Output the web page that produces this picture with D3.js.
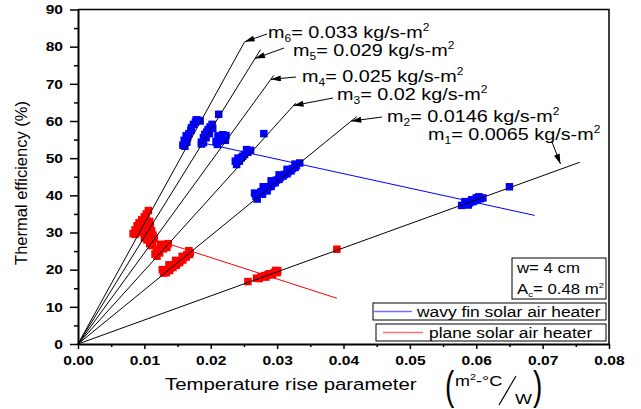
<!DOCTYPE html>
<html>
<head>
<meta charset="utf-8">
<script src="https://cdn.jsdelivr.net/npm/d3@7"></script>
<style>
body{margin:0;background:#fff}
svg{display:block}
text{font-family:"Liberation Sans",Arial,sans-serif;fill:#000}
</style>
</head>
<body>
<svg id="chart" width="641" height="409"></svg>
<script>
// ---- data ----
const xTicks = [0, 0.01, 0.02, 0.03, 0.04, 0.05, 0.06, 0.07, 0.08];
const yTicks = [0, 10, 20, 30, 40, 50, 60, 70, 80, 90];

// mass flow rates m1..m6 and the end of each fitted line through the origin
const flowRates = ["0.0065", "0.0146", "0.02", "0.025", "0.029", "0.033"];
const fitEndX = [0.0756, 0.0420, 0.0328, 0.0295, 0.0275, 0.0251];
const fitEndY = [48.9, 61.2, 64.8, 72.3, 79.2, 81.3];

// wavy fin solar air heater (blue squares)
const wavyX = [0.0161, 0.0164, 0.0165, 0.0167, 0.0170, 0.0171, 0.0174, 0.0177, 0.0181,
  0.0158, 0.0160, 0.0163, 0.0178, 0.0184,
  0.0186, 0.0186, 0.0189, 0.0191, 0.0194, 0.0196, 0.0199, 0.0202, 0.0212,
  0.0189, 0.0193, 0.0198, 0.0203,
  0.0210, 0.0212, 0.0215, 0.0219, 0.0223, 0.0208, 0.0211, 0.0218, 0.0222,
  0.0239, 0.0243, 0.0246, 0.0251, 0.0256, 0.0260, 0.0280, 0.0237, 0.0241, 0.0248, 0.0254,
  0.0268, 0.0272, 0.0276, 0.0281, 0.0287, 0.0293, 0.0299, 0.0305, 0.0311, 0.0317, 0.0323, 0.0329, 0.0334,
  0.0270, 0.0278, 0.0285, 0.0291, 0.0297, 0.0303, 0.0309, 0.0315, 0.0321, 0.0327,
  0.0266, 0.0279, 0.0291, 0.0303, 0.0315, 0.0327,
  0.0578, 0.0585, 0.0590, 0.0595, 0.0598, 0.0602, 0.0606, 0.0610, 0.0650,
  0.0583, 0.0593, 0.0600, 0.0604, 0.0588];
const wavyY = [53.2, 54.3, 55.5, 56.6, 57.5, 58.2, 59.1, 59.7, 60.2,
  53.5, 54.8, 56.0, 60.3, 60.0,
  53.8, 54.3, 55.5, 56.4, 57.0, 57.7, 58.4, 59.1, 61.8,
  54.2, 55.5, 56.6, 58.0,
  53.7, 54.6, 55.2, 55.7, 56.1, 54.5, 56.0, 56.3, 54.8,
  48.3, 49.2, 50.1, 51.0, 51.6, 52.1, 56.6, 49.2, 50.0, 50.5, 52.3,
  39.8, 40.4, 41.0, 41.6, 42.3, 43.2, 44.1, 44.9, 45.6, 46.4, 47.2, 48.0, 48.7,
  39.0, 40.3, 41.2, 42.4, 43.4, 44.3, 45.2, 45.8, 46.6, 47.5,
  40.6, 42.3, 43.9, 45.5, 47.0, 48.4,
  37.3, 37.7, 38.0, 38.3, 38.6, 38.8, 39.1, 39.3, 42.3,
  38.3, 38.8, 39.3, 39.6, 37.4];

// plane solar air heater (red squares)
const plainX = [0.0083, 0.0086, 0.0089, 0.0092, 0.0096, 0.0100, 0.0103, 0.0106,
  0.0103, 0.0106, 0.0109, 0.0111, 0.0113, 0.0115, 0.0104, 0.0108, 0.0111,
  0.0098, 0.0101, 0.0096, 0.0100, 0.0106, 0.0110, 0.0112, 0.0108, 0.0086, 0.0090,
  0.0116, 0.0121, 0.0126, 0.0132, 0.0136, 0.0119, 0.0123, 0.0129, 0.0134, 0.0118, 0.0124,
  0.0129, 0.0134, 0.0139, 0.0144, 0.0149, 0.0154, 0.0159, 0.0164, 0.0169,
  0.0133, 0.0138, 0.0143, 0.0148, 0.0153, 0.0158, 0.0163, 0.0168,
  0.0127, 0.0137, 0.0147, 0.0157, 0.0167,
  0.0256, 0.0269, 0.0276, 0.0281, 0.0286, 0.0291, 0.0296, 0.0301, 0.0390,
  0.0273, 0.0283, 0.0293, 0.0300, 0.0288, 0.0298];
const plainY = [29.7, 30.7, 31.8, 32.6, 33.4, 34.2, 35.0, 35.9,
  30.0, 31.0, 31.7, 30.4, 29.3, 28.4, 28.0, 27.0, 26.5,
  31.5, 32.5, 30.0, 28.5, 29.0, 28.8, 27.5, 33.0, 29.5, 30.5,
  24.2, 25.2, 26.1, 26.8, 27.0, 23.6, 24.5, 25.6, 26.0, 25.5, 26.8,
  19.1, 19.7, 20.4, 21.1, 21.7, 22.4, 23.3, 24.0, 24.6,
  19.2, 19.8, 20.6, 21.2, 21.9, 22.6, 23.4, 24.1,
  20.0, 21.3, 22.5, 23.6, 25.1,
  16.8, 17.7, 18.1, 18.4, 18.6, 18.9, 19.3, 19.7, 25.5,
  17.6, 18.0, 18.6, 19.2, 18.9, 19.8];

// trend lines across the flow rates
const wavyTrendX = [0.0193, 0.0688];
const wavyTrendY = [53.9, 34.6];
const plainTrendX = [0.0137, 0.0390];
const plainTrendY = [26.9, 12.3];

// ---- chart ----
const svg = d3.select("#chart");
const SX = 1.2; // text in the figure is stretched horizontally
const x = d3.scaleLinear().domain([0, 0.08]).range([78, 609]);
const y = d3.scaleLinear().domain([0, 90]).range([344, 9.5]);

svg.append("defs").append("marker")
  .attr("id", "arrow")
  .attr("viewBox", "0 0 10 6")
  .attr("refX", 10).attr("refY", 3)
  .attr("markerWidth", 12).attr("markerHeight", 6)
  .attr("markerUnits", "userSpaceOnUse")
  .attr("orient", "auto")
  .append("path").attr("d", "M0,0L10,3L0,6Z").attr("fill", "#000");

// axes
const xMinor = d3.range(0.005, 0.08, 0.01);
const yMinor = d3.range(5, 90, 10);

svg.append("g").attr("transform", `translate(0,${y(0)})`)
  .call(d3.axisBottom(x).tickValues(xMinor).tickFormat("").tickSize(3).tickSizeOuter(0))
  .call(g => g.select(".domain").remove())
  .selectAll("line").attr("stroke-width", 1.5);
svg.append("g").attr("transform", `translate(${x(0)},0)`)
  .call(d3.axisLeft(y).tickValues(yMinor).tickFormat("").tickSize(4).tickSizeOuter(0))
  .call(g => g.select(".domain").remove())
  .selectAll("line").attr("stroke-width", 1.5);

const xAxis = svg.append("g").attr("transform", `translate(0,${y(0)})`)
  .call(d3.axisBottom(x).tickValues(xTicks).tickFormat(d3.format(".2f"))
    .tickSize(5).tickSizeOuter(0).tickPadding(7));
xAxis.attr("font-size", 13).attr("font-weight", "bold")
  .attr("font-family", "Liberation Sans, Arial, sans-serif");
xAxis.select(".domain").attr("stroke-width", 2);
xAxis.selectAll("line").attr("stroke-width", 1.5);
xAxis.selectAll("text").attr("transform", `scale(${SX},1)`);

const yAxis = svg.append("g").attr("transform", `translate(${x(0)},0)`)
  .call(d3.axisLeft(y).tickValues(yTicks).tickSize(8).tickSizeOuter(0));
yAxis.attr("font-size", 13).attr("font-weight", "bold")
  .attr("font-family", "Liberation Sans, Arial, sans-serif");
yAxis.select(".domain").attr("stroke-width", 2);
yAxis.selectAll("line").attr("stroke-width", 1.5);
yAxis.selectAll("text").attr("x", -15 / SX).attr("transform", `scale(${SX},1)`);

// frame (top and right)
svg.append("path")
  .attr("d", `M${x(0)},${y(90)}H${x(0.08)}V${y(0)}`)
  .attr("fill", "none").attr("stroke", "#000").attr("stroke-width", 1.5);

// points
const sq = 7.5;
function squares(xs, ys, color) {
  svg.append("g").selectAll("rect")
    .data(d3.zip(xs, ys))
    .join("rect")
    .attr("x", d => x(d[0]) - sq / 2)
    .attr("y", d => y(d[1]) - sq / 2)
    .attr("width", sq).attr("height", sq)
    .attr("fill", color);
}
squares(wavyX, wavyY, "#0000ff");
squares(plainX, plainY, "#ff0000");

const line = d3.line().x(d => x(d[0])).y(d => y(d[1]));
svg.append("path").attr("d", line(d3.zip(wavyTrendX, wavyTrendY)))
  .attr("fill", "none").attr("stroke", "#0000ff").attr("stroke-width", 1);
svg.append("path").attr("d", line(d3.zip(plainTrendX, plainTrendY)))
  .attr("fill", "none").attr("stroke", "#ff0000").attr("stroke-width", 1);

// fitted lines through origin
svg.append("g").selectAll("path")
  .data(d3.zip(fitEndX, fitEndY))
  .join("path")
  .attr("d", d => line([[0, 0], d]))
  .attr("fill", "none").attr("stroke", "#000").attr("stroke-width", 1);

// flow-rate labels with arrows
const labelPos = [
  {tx: 428, ty: 140, ax: 552, ay: 142, f: 0.965, gap: 5},
  {tx: 387, ty: 122, ax: 382, ay: 117, f: 0.98, gap: 0},
  {tx: 337, ty: 100, ax: 333, ay: 98, f: 0.99, gap: 0},
  {tx: 302, ty: 82, ax: 296, ay: 77, f: 0.985, gap: 0},
  {tx: 293, ty: 56, ax: 284, ay: 48, f: 0.97, gap: 0},
  {tx: 268, ty: 38, ax: 267, ay: 34, f: 1.0, gap: 0}
];
labelPos.forEach((p, i) => {
  const t = svg.append("text")
    .attr("transform", `translate(${p.tx},${p.ty}) scale(${SX},1)`)
    .attr("font-size", 16.5);
  t.append("tspan").text("m");
  t.append("tspan").attr("font-size", 10).attr("dy", 4).text(i + 1);
  t.append("tspan").attr("dy", -4).text("= " + flowRates[i] + " kg/s-m");
  t.append("tspan").attr("font-size", 10).attr("dy", -7).text("2");

  let tipX = x(fitEndX[i] * p.f), tipY = y(fitEndY[i] * p.f);
  const dx = tipX - p.ax, dy = tipY - p.ay, len = Math.hypot(dx, dy);
  tipX -= dx / len * p.gap; tipY -= dy / len * p.gap;
  svg.append("line")
    .attr("x1", p.ax).attr("y1", p.ay).attr("x2", tipX).attr("y2", tipY)
    .attr("stroke", "#000").attr("stroke-width", 1)
    .attr("marker-end", "url(#arrow)");
});

// axis titles
svg.append("text")
  .attr("transform", "translate(27,183) rotate(-90)")
  .attr("text-anchor", "middle").attr("font-size", 16.5)
  .text("Thermal efficiency (%)");

svg.append("text")
  .attr("transform", `translate(165,390) scale(${SX},1)`)
  .attr("font-size", 17)
  .text("Temperature rise parameter");

const unit = svg.append("g").attr("font-family", "Liberation Serif, Times New Roman, serif");
unit.append("text").attr("transform", "translate(445,400) scale(0.7,1)")
  .attr("font-size", 40).attr("font-family", "Liberation Serif, serif").text("(");
unit.append("text").attr("transform", `translate(455,386) scale(${SX},1)`)
  .attr("font-size", 15).attr("font-family", "Liberation Serif, serif")
  .call(t => {
    t.append("tspan").text("m");
    t.append("tspan").attr("font-size", 9).attr("dy", -6).text("2");
    t.append("tspan").attr("dy", 6).text("-°C");
  });
unit.append("line").attr("x1", 499).attr("y1", 405).attr("x2", 516).attr("y2", 376)
  .attr("stroke", "#000").attr("stroke-width", 1.2);
unit.append("text").attr("transform", `translate(515,404) scale(${SX},1)`)
  .attr("font-size", 15).attr("font-family", "Liberation Serif, serif").text("W");
unit.append("text").attr("transform", "translate(533,400) scale(0.7,1)")
  .attr("font-size", 40).attr("font-family", "Liberation Serif, serif").text(")");

// info box
svg.append("rect").attr("x", 512).attr("y", 258).attr("width", 94).attr("height", 41)
  .attr("fill", "#fff").attr("stroke", "#000").attr("stroke-width", 1);
svg.append("text").attr("transform", `translate(517,273) scale(${SX},1)`)
  .attr("font-size", 14).text("w= 4 cm");
svg.append("text").attr("transform", `translate(517,294) scale(${SX},1)`)
  .attr("font-size", 14)
  .call(t => {
    t.append("tspan").text("A");
    t.append("tspan").attr("font-size", 8).attr("dy", 3).text("c");
    t.append("tspan").attr("dy", -3).text("= 0.48 m");
    t.append("tspan").attr("font-size", 8).attr("dy", -6).text("2");
  });

// legend
const legend = [
  {label: "wavy fin solar air heater", color: "#7070ff", bx: 373, by: 303, w: 233, l1: 374, l2: 412, tx: 417},
  {label: "plane solar air heater", color: "#ff7575", bx: 376, by: 324, w: 230, l1: 383, l2: 423, tx: 429}
];
legend.forEach(d => {
  svg.append("rect").attr("x", d.bx).attr("y", d.by).attr("width", d.w).attr("height", 17)
    .attr("fill", "#fff").attr("stroke", "#000").attr("stroke-width", 1);
  svg.append("line").attr("x1", d.l1).attr("x2", d.l2).attr("y1", d.by + 8.5).attr("y2", d.by + 8.5)
    .attr("stroke", d.color).attr("stroke-width", 1.5);
  svg.append("text").attr("transform", `translate(${d.tx},${d.by + 14}) scale(${SX},1)`)
    .attr("font-size", 14.5).text(d.label);
});
</script>
</body>
</html>
